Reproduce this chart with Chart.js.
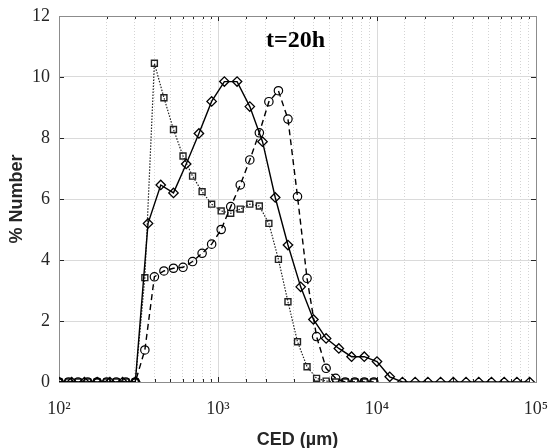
<!DOCTYPE html>
<html><head><meta charset="utf-8">
<script src="https://cdn.jsdelivr.net/npm/chart.js@4"></script>
<style>html,body{margin:0;padding:0;background:#fff}#wrap{width:551px;height:448px}</style>
</head><body><div id="wrap"><canvas id="c" width="551" height="448"></canvas></div>
<script>
const titleText = 't=20h';
const xTitle = 'CED (µm)';
const yTitle = '% Number';
const xTickLabels = {100: '10²', 1000: '10³', 10000: '10⁴', 100000: '10⁵'};

// size bins (µm) shared by square and circle series
const binsFine = [100, 114.8, 131.8, 151.4, 173.8, 199.5, 229.1, 263.0, 302.0, 346.7, 398.1, 457.1, 524.8, 602.6, 691.8, 794.3, 912.0, 1047.1, 1202.3, 1380.4, 1584.9, 1819.7, 2089.3, 2398.8, 2754.2, 3162.3, 3630.8, 4168.7, 4786.3, 5495.4, 6309.6, 7244.4, 8317.6, 9549.9];
const squareValues = [0, 0, 0, 0, 0, 0, 0, 0, 0, 3.42, 10.45, 9.32, 8.28, 7.41, 6.75, 6.24, 5.83, 5.61, 5.53, 5.67, 5.83, 5.77, 5.2, 4.02, 2.63, 1.32, 0.5, 0.12, 0.03, 0, 0, 0, 0, 0];
const circleValues = [0, 0, 0, 0, 0, 0, 0, 0, 0, 1.05, 3.45, 3.64, 3.73, 3.76, 3.95, 4.22, 4.52, 5.0, 5.75, 6.46, 7.28, 8.17, 9.19, 9.55, 8.62, 6.08, 3.4, 1.49, 0.45, 0.12, 0, 0, 0, 0];

// size bins (µm) for the diamond series
const binsCoarse = [100, 120.2, 144.5, 173.8, 208.9, 251.2, 302.0, 363.1, 436.5, 524.8, 631.0, 758.6, 912.0, 1096.5, 1318.3, 1584.9, 1905.5, 2290.9, 2754.2, 3311.3, 3981.1, 4786.3, 5754.4, 6918.3, 8317.6, 10000, 12022.6, 14454.4, 17378.0, 20893.0, 25118.9, 30199.5, 36307.8, 43651.6, 52480.7, 63095.7, 75857.8, 91201.1];
const diamondValues = [0, 0, 0, 0, 0, 0, 0, 5.2, 6.46, 6.2, 7.15, 8.15, 9.2, 9.85, 9.85, 9.03, 7.88, 6.05, 4.49, 3.12, 2.05, 1.43, 1.1, 0.83, 0.83, 0.67, 0.17, 0, 0, 0, 0, 0, 0, 0, 0, 0, 0, 0];

const pts = (xs, ys) => xs.map((x, i) => ({x: x, y: ys[i]}));
const isMajor = v => Math.abs(Math.log10(v) - Math.round(Math.log10(v))) < 1e-9;

const frame = {
  id: 'frame',
  beforeDatasetsDraw(chart) {
    const {ctx, chartArea: a, scales: {x, y}} = chart;
    ctx.save();
    ctx.strokeStyle = '#262626';
    ctx.lineWidth = 1;
    ctx.beginPath();
    x.ticks.forEach(t => {
      const px = Math.round(x.getPixelForValue(t.value)) + 0.5;
      const L = isMajor(t.value) ? 5 : 3;
      ctx.moveTo(px, a.bottom); ctx.lineTo(px, a.bottom - L);
      ctx.moveTo(px, a.top); ctx.lineTo(px, a.top + L);
    });
    y.ticks.forEach(t => {
      const py = Math.round(y.getPixelForValue(t.value)) + 0.5;
      ctx.moveTo(a.left, py); ctx.lineTo(a.left + 5, py);
      ctx.moveTo(a.right, py); ctx.lineTo(a.right - 5, py);
    });
    ctx.stroke();
    ctx.strokeStyle = '#8c8c8c';
    ctx.strokeRect(Math.round(a.left) + 0.5, Math.round(a.top) + 0.5, Math.round(a.right - a.left), Math.round(a.bottom - a.top));
    ctx.restore();
  },
  afterDraw(chart) {
    const {ctx, chartArea: a} = chart;
    ctx.save();
    ctx.fillStyle = '#000';
    ctx.font = 'bold 24px "Liberation Serif"';
    ctx.textAlign = 'center';
    ctx.textBaseline = 'middle';
    ctx.fillText(titleText, (a.left + a.right) / 2 - 2, a.top + 25);
    ctx.restore();
  }
};

new Chart(document.getElementById('c'), {
  type: 'line',
  data: {
    datasets: [
      {
        data: pts(binsCoarse, diamondValues),
        borderColor: '#000', borderWidth: 1.4,
        pointStyle: 'rectRot', pointRadius: 4.7, pointBorderWidth: 1.3,
        pointBorderColor: '#000', pointBackgroundColor: 'rgba(0,0,0,0)'
      },
      {
        data: pts(binsFine, circleValues),
        borderColor: '#000', borderWidth: 1.4, borderDash: [6, 4],
        pointStyle: 'circle', pointRadius: 4.2, pointBorderWidth: 1.2,
        pointBorderColor: '#000', pointBackgroundColor: 'rgba(0,0,0,0)'
      },
      {
        data: pts(binsFine, squareValues),
        borderColor: '#222', borderWidth: 1.2, borderDash: [1.5, 1.5],
        pointStyle: 'rect', pointRadius: 4.2, pointBorderWidth: 1.4,
        pointBorderColor: '#222', pointBackgroundColor: 'rgba(0,0,0,0)'
      }
    ]
  },
  options: {
    responsive: false, devicePixelRatio: 1, animation: false,
    layout: {padding: {top: 16, right: 15, left: 0, bottom: 0}},
    plugins: {legend: {display: false}, tooltip: {enabled: false}},
    elements: {line: {tension: 0}},
    scales: {
      x: {
        type: 'logarithmic', min: 100, max: 100000,
        afterFit: s => { s.height = 66; s.paddingLeft = 0; s.paddingRight = 0; },
        border: {display: false, dash: ctx => (ctx.tick && !isMajor(ctx.tick.value)) ? [1, 2] : []},
        grid: {drawTicks: false, color: ctx => (ctx.tick && isMajor(ctx.tick.value)) ? '#dadada' : '#d4d4d4', lineWidth: 1},
        ticks: {
          autoSkip: false, maxRotation: 0, padding: 16, color: '#262626',
          font: {family: '"Liberation Serif"', size: 18},
          callback: v => xTickLabels[v] || ''
        },
        title: {display: true, text: xTitle, color: '#262626', font: {family: '"Liberation Sans"', size: 18, weight: 'bold'}, padding: {top: 0, bottom: -3}}
      },
      y: {
        min: 0, max: 12,
        afterFit: s => { s.width = 59; s.paddingTop = 0; s.paddingBottom = 0; },
        border: {display: false},
        grid: {drawTicks: false, color: '#dadada', lineWidth: 1},
        ticks: {stepSize: 2, padding: 9, color: '#262626', font: {family: '"Liberation Serif"', size: 18}},
        title: {display: true, text: yTitle, color: '#262626', font: {family: '"Liberation Sans"', size: 18, weight: 'bold'}, padding: {top: 6, bottom: 0}}
      }
    }
  },
  plugins: [frame]
});
</script>
</body></html>
